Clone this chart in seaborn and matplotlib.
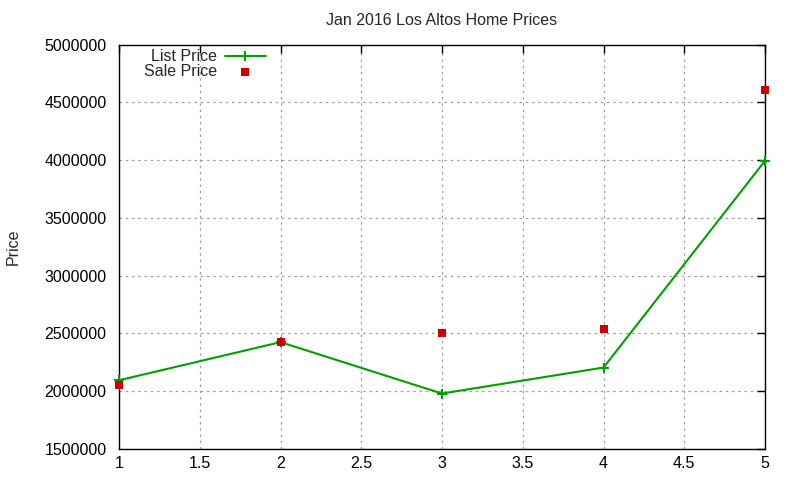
import matplotlib
matplotlib.use("Agg")
import matplotlib.pyplot as plt
import seaborn as sns
import pandas as pd
from matplotlib.ticker import FuncFormatter

sns.set_style("white")
plt.rcParams['font.family'] = ['Liberation Sans', 'DejaVu Sans']

x_vals = [1, 2, 3, 4, 5]
list_price = [2095000, 2425000, 1980000, 2205000, 3995000]
sale_price = [2050000, 2425000, 2500000, 2535000, 4605000]
title = "Jan 2016 Los Altos Home Prices"
x_ticks = [1, 1.5, 2, 2.5, 3, 3.5, 4, 4.5, 5]
y_ticks = [1500000, 2000000, 2500000, 3000000, 3500000, 4000000, 4500000, 5000000]

df = pd.DataFrame({"x": x_vals, "List Price": list_price, "Sale Price": sale_price})

fig = plt.figure(figsize=(8, 4.8), dpi=100)
ax = fig.add_axes([119/800, 31/480, (765-119)/800, (449-44.7)/480])

sns.lineplot(data=df, x="x", y="List Price", ax=ax, color="#00a000", linewidth=1.5,
             marker="+", markersize=6.5, markeredgewidth=1.5, markeredgecolor="#00a000",
             label="List Price", zorder=3)
sns.scatterplot(data=df, x="x", y="Sale Price", ax=ax, color="#cc0000", marker="s",
                s=34, linewidth=0, label="Sale Price", zorder=4)
for ln in ax.lines:
    ln.set_clip_on(False)
for c in ax.collections:
    c.set_clip_on(False)

ax.set_xlim(1, 5)
ax.set_ylim(1500000, 5000000)
ax.set_xticks(x_ticks)
ax.set_yticks(y_ticks)
ax.xaxis.set_major_formatter(FuncFormatter(lambda v, p: f"{v:g}"))
ax.yaxis.set_major_formatter(FuncFormatter(lambda v, p: f"{int(v)}"))
ax.tick_params(direction="in", length=6, width=1, top=True, right=True,
               labelsize=11.5, colors="black")
ax.tick_params(axis="y", pad=9)
ax.tick_params(axis="x", pad=5)
ax.grid(True, color="#a0a0a0", linestyle=(0, (2, 3)), linewidth=0.9)
for s in ax.spines.values():
    s.set_color("black")
    s.set_linewidth(1)
ax.set_xlabel("")
ax.set_ylabel("Price", fontsize=11.5)
ax.yaxis.set_label_coords(-0.152, 0.5)
ax.set_title(title, fontsize=11.5, pad=14)

leg = ax.legend(loc="upper left", bbox_to_anchor=(0.0232, 1.012), frameon=False,
                markerfirst=False, fontsize=11.5, handlelength=2.6,
                labelspacing=0.0, borderaxespad=0.2, handletextpad=0.5)
for t in leg.get_texts():
    t.set_ha("right")

fig.savefig("out.png", dpi=100)
